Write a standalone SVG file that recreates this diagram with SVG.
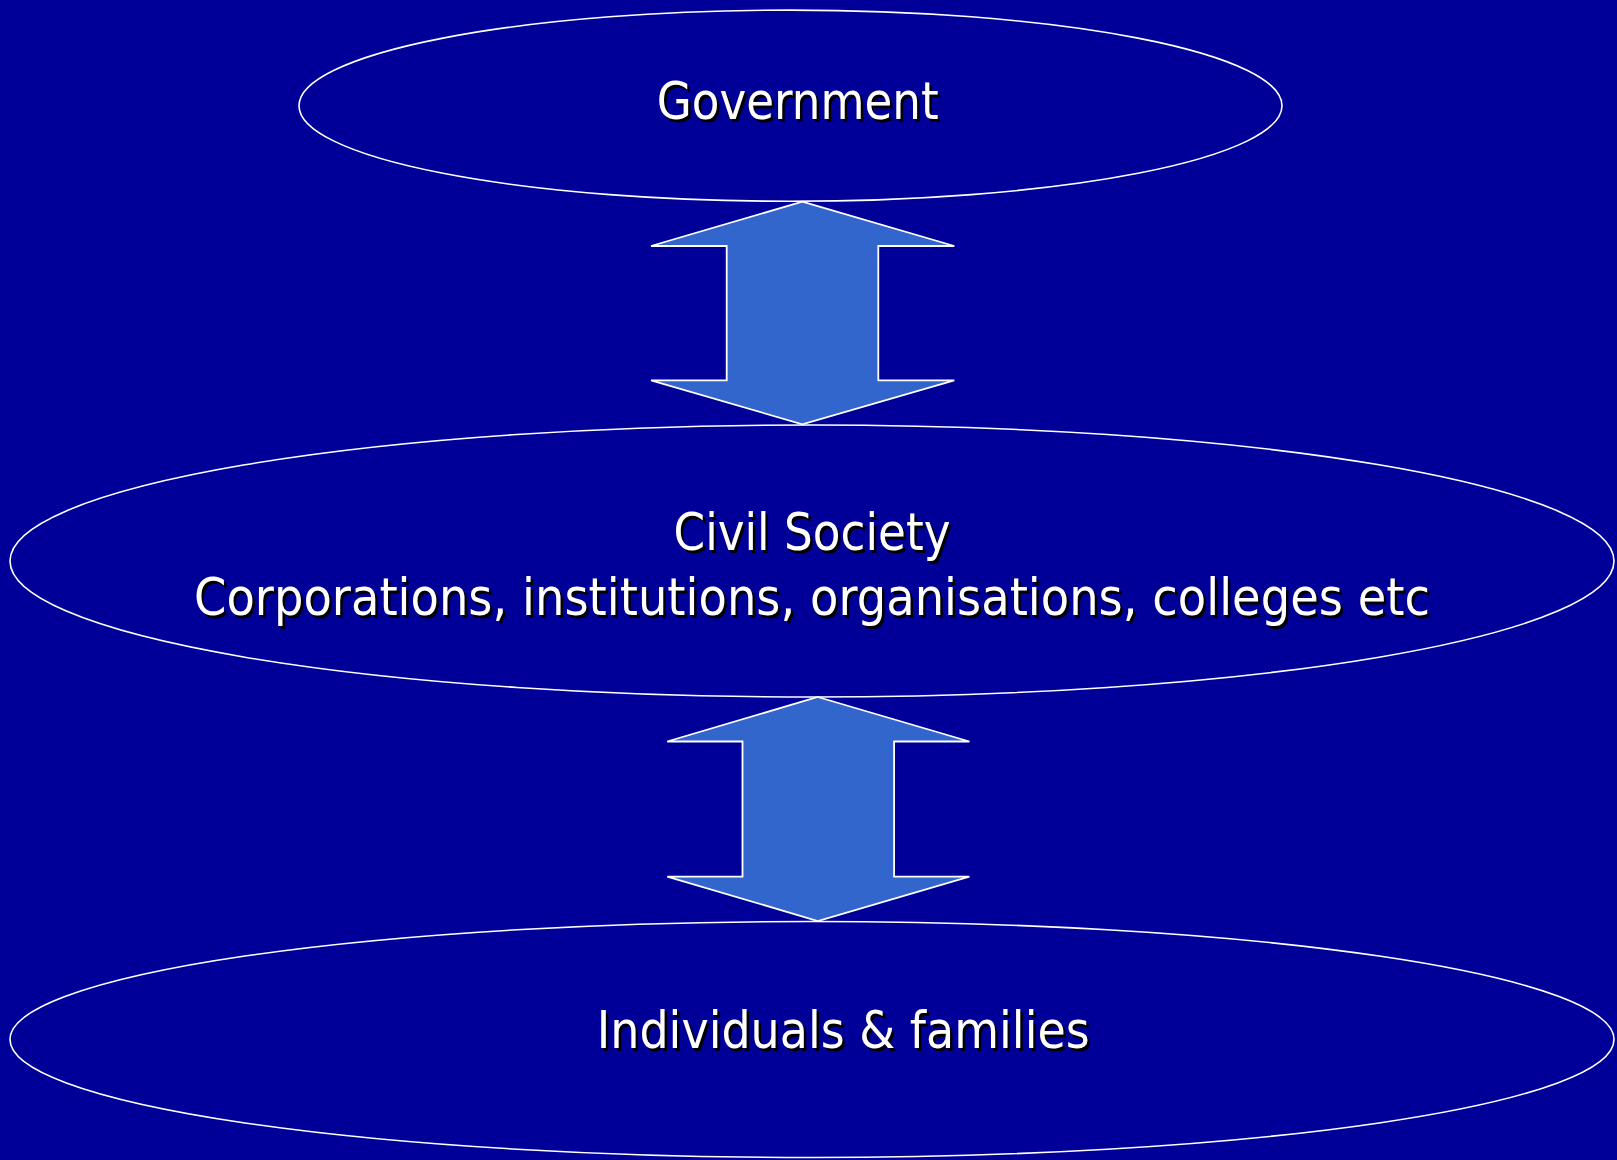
<svg xmlns="http://www.w3.org/2000/svg" width="1617" height="1160" viewBox="0 0 1617 1160">
  <style>
    .layer { fill: none; stroke: #ffffff; stroke-width: 1.6; }
    .flow { fill: #3366cc; stroke: #ffffff; stroke-width: 1.8; stroke-linejoin: miter; }
    .lbl { font-family: "DejaVu Sans", Verdana, sans-serif; font-size: 51px; fill: #ffffff; }
    .shadow { fill: #000000; }
  </style>
  <rect x="0" y="0" width="1617" height="1160" fill="#000099"/>

  <g id="connectors">
    <!-- two-way arrow between Government and Civil Society -->
    <polygon class="flow" points="802.3,201.7 954.3,246 878.3,246 878.3,380.3 954.3,380.3 802.3,424.3 651,380.3 726.7,380.3 726.7,246 651,246"/>
    <!-- two-way arrow between Civil Society and Individuals & families -->
    <polygon class="flow" points="817.8,697 969.4,741.5 894.1,741.5 894.1,876.6 969.4,876.6 817.8,921 667.2,876.6 742.5,876.6 742.5,741.5 667.2,741.5"/>
  </g>

  <g id="government">
    <ellipse class="layer" cx="790.5" cy="105.7" rx="491.5" ry="95.6"/>
    <text class="lbl shadow" x="659.2" y="121.8" textLength="282" lengthAdjust="spacingAndGlyphs">Government</text>
    <text class="lbl" x="656.7" y="119.3" textLength="282" lengthAdjust="spacingAndGlyphs">Government</text>
  </g>

  <g id="civil-society">
    <ellipse class="layer" cx="812" cy="561" rx="802" ry="136"/>
    <text class="lbl shadow" x="676" y="552.5" textLength="277" lengthAdjust="spacingAndGlyphs">Civil Society</text>
    <text class="lbl" x="673.5" y="550" textLength="277" lengthAdjust="spacingAndGlyphs">Civil Society</text>
    <text class="lbl shadow" x="196.5" y="617.5" textLength="1236" lengthAdjust="spacingAndGlyphs">Corporations, institutions, organisations, colleges etc</text>
    <text class="lbl" x="194" y="615" textLength="1236" lengthAdjust="spacingAndGlyphs">Corporations, institutions, organisations, colleges etc</text>
  </g>

  <g id="individuals">
    <ellipse class="layer" cx="812" cy="1039.5" rx="802" ry="118"/>
    <text class="lbl shadow" x="599.2" y="1050.8" textLength="493" lengthAdjust="spacingAndGlyphs">Individuals &amp; families</text>
    <text class="lbl" x="596.7" y="1048.3" textLength="493" lengthAdjust="spacingAndGlyphs">Individuals &amp; families</text>
  </g>
</svg>
